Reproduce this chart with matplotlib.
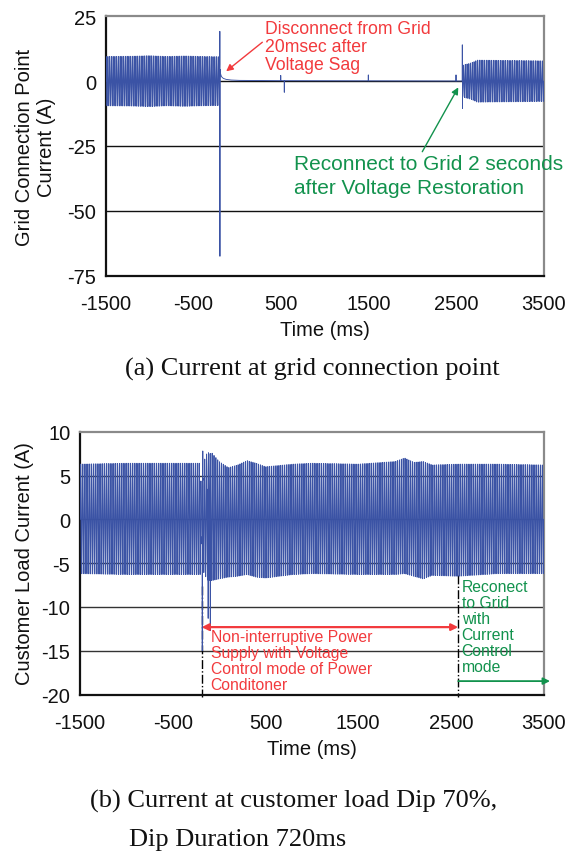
import numpy as np
import matplotlib
matplotlib.use("Agg")
import matplotlib.pyplot as plt

# ---------------- data ----------------
x_ticks = [-1500, -500, 500, 1500, 2500, 3500]
x_ticklabels = ["-1500", "-500", "500", "1500", "2500", "3500"]
top_yticks = [25, 0, -25, -50, -75]
bot_yticks = [10, 5, 0, -5, -10, -15, -20]

line_freq_hz = 50.0

# (a) grid connection point current
grid_pre_env_t = [-1500, -1200, -1000, -800, -600, -400, -197]
grid_pre_env_a = [9.5, 9.6, 9.8, 9.5, 9.7, 9.5, 9.4]
grid_off_t = [-197, -196, -195, -190, -180, -160, -130, -80, 0, 300, 1000, 2000, 2568]
grid_off_v = [19.2, -67.5, 4.5, 3.0, 1.8, 1.1, 0.7, 0.45, 0.3, 0.2, 0.15, 0.1, 0.05]
grid_spike_t = [498, 539, 1498, 2499, 2571, 2573]
grid_spike_v = [2.2, -4.3, 2.4, 2.4, 14.0, -10.5]
grid_post_env_t = [2575, 2600, 2650, 2700, 2740, 3000, 3300, 3500]
grid_post_env_a = [6.0, 6.4, 6.8, 7.4, 8.1, 8.0, 7.9, 7.8]

# (b) customer load current
load_env_t = [-1500, -1000, -500, -200, -192, -182, -168, -130, -80, 0, 100,
              200, 300, 400, 500, 800, 1000, 1500, 1900, 2000, 2100, 2200,
              2300, 2575, 3000, 3500]
load_env_hi = [6.3, 6.4, 6.4, 6.4, 2.8, 2.8, 6.5, 7.6, 7.6, 6.6, 5.9,
               6.2, 6.7, 6.4, 6.0, 6.3, 6.4, 6.3, 6.6, 7.0, 6.5, 6.6,
               6.2, 6.3, 6.3, 6.2]
load_env_lo = [-6.2, -6.3, -6.3, -6.3, -2.8, -2.8, -6.0, -6.9, -7.0, -6.8, -6.6,
               -6.5, -6.3, -6.6, -6.7, -6.3, -6.2, -6.3, -6.3, -6.2, -6.5, -6.8,
               -6.4, -6.5, -6.2, -6.2]
load_spike_t = [-182, -181.5, -176, -118, -95]
load_spike_v = [-15.0, -15.0, 7.8, -11.3, -12.7]

event_off_ms = -188
event_on_ms = 2578

# ---------------- colours ----------------
BLUE = "#3b53a5"
RED = "#f23a3d"
GREEN = "#12924d"

plt.rcParams["font.family"] = ["Liberation Sans", "DejaVu Sans"]

fig = plt.figure(figsize=(5.8, 8.54), dpi=100)
W, H = 580.0, 854.0


def axes_px(l, t, r, b):
    return fig.add_axes([l / W, 1 - b / H, (r - l) / W, (b - t) / H])


ax1 = axes_px(105.7, 17.3, 543.7, 276.7)
ax2 = axes_px(80.0, 432.7, 543.7, 695.6)

step = 0.5
t = np.arange(-1500, 3500 + step, step)
carrier = np.sin(2 * np.pi * line_freq_hz * t / 1000.0)

# ----- (a) signal -----
sig1 = np.zeros_like(t)
m_pre = t < grid_off_t[0]
sig1[m_pre] = carrier[m_pre] * np.interp(t[m_pre], grid_pre_env_t, grid_pre_env_a)
m_off = (t >= grid_off_t[0]) & (t < grid_post_env_t[0])
sig1[m_off] = np.interp(t[m_off], grid_off_t, grid_off_v)
for st, sv in zip(grid_off_t[:3], grid_off_v[:3]):
    sig1[np.argmin(np.abs(t - st))] = sv
m_post = t >= grid_post_env_t[0]
sig1[m_post] = carrier[m_post] * np.interp(t[m_post], grid_post_env_t, grid_post_env_a)
for st, sv in zip(grid_spike_t, grid_spike_v):
    sig1[np.argmin(np.abs(t - st))] = sv

# ----- (b) signal -----
hi = np.interp(t, load_env_t, load_env_hi)
lo = np.interp(t, load_env_t, load_env_lo)
sig2 = np.where(carrier >= 0, carrier * hi, -carrier * lo)
for st, sv in zip(load_spike_t, load_spike_v):
    sig2[np.argmin(np.abs(t - st))] = sv


def style_axes(ax, yticks, ylim, grid_vals, grid_color):
    ax.set_xlim(-1500, 3500)
    ax.set_ylim(*ylim)
    ax.set_xticks(x_ticks)
    ax.set_xticklabels(x_ticklabels)
    ax.set_yticks(yticks)
    ax.set_yticklabels([str(v) for v in yticks])
    ax.tick_params(length=0, labelsize=14.5, colors="#111111")
    ax.tick_params(axis="x", pad=13)
    ax.tick_params(axis="y", pad=7)
    for g in grid_vals:
        ax.axhline(g, color=grid_color, lw=1.0, zorder=1)
    for s in ("left", "bottom"):
        ax.spines[s].set_color("#111111")
        ax.spines[s].set_linewidth(1.6)
    for s in ("top", "right"):
        ax.spines[s].set_color("#8a8a8a")
        ax.spines[s].set_linewidth(1.6)
    ax.set_xlabel("Time (ms)", fontsize=14.5, labelpad=5, color="#111111")


style_axes(ax1, top_yticks, (-75, 25), [0, -25, -50], "#111111")
ax1.plot(t, sig1, color=BLUE, lw=0.65, zorder=3)

style_axes(ax2, bot_yticks, (-20, 10), [5, 0, -5, -10, -15], "#333333")
ax2.plot(t, sig2, color=BLUE, lw=0.65, zorder=3)

# ----- annotations (a) -----
ax1.text(322, 13.4, "Disconnect from Grid\n20msec after\nVoltage Sag",
         color=RED, fontsize=12.7, ha="left", va="center", linespacing=1.1, zorder=5)
ax1.annotate("", xy=(-125, 3.8), xytext=(288, 15),
             arrowprops=dict(arrowstyle="-|>", color=RED, lw=1.0,
                             mutation_scale=10, shrinkA=0, shrinkB=0), zorder=5)
ax1.text(651, -36.4, "Reconnect to Grid 2 seconds\nafter Voltage Restoration",
         color=GREEN, fontsize=15, ha="left", va="center", linespacing=1.3, zorder=5)
ax1.annotate("", xy=(2525, -2.4), xytext=(2114, -27.2),
             arrowprops=dict(arrowstyle="-|>", color=GREEN, lw=1.0,
                             mutation_scale=10, shrinkA=0, shrinkB=0), zorder=5)

# ----- annotations (b) -----
ax2.plot([event_off_ms, event_off_ms], [-7.6, -20.3], color="black", lw=1.0,
         ls="-.", clip_on=False, zorder=2)
ax2.plot([event_on_ms, event_on_ms], [-6.4, -20.3], color="black", lw=1.0,
         ls="-.", clip_on=False, zorder=2)
ax2.annotate("", xy=(event_off_ms, -12.3), xytext=(event_on_ms, -12.3),
             arrowprops=dict(arrowstyle="<|-|>", color=RED, lw=1.6,
                             mutation_scale=10, shrinkA=0, shrinkB=0), zorder=5)
ax2.text(-91, -16.1, "Non-interruptive Power\nSupply with Voltage\nControl mode of Power\nConditoner",
         color=RED, fontsize=11.3, ha="left", va="center", linespacing=1.07, zorder=5)
ax2.text(2616, -12.2, "Reconect\nto Grid\nwith\nCurrent\nControl\nmode",
         color=GREEN, fontsize=11.3, ha="left", va="center", linespacing=1.08, zorder=5)
ax2.annotate("", xy=(3568, -18.46), xytext=(event_on_ms, -18.46),
             arrowprops=dict(arrowstyle="-|>", color=GREEN, lw=1.3,
                             mutation_scale=10, shrinkA=0, shrinkB=0),
             annotation_clip=False, zorder=5)

# ----- axis labels -----
fig.text(35.6 / W, 1 - 147 / H, "Grid Connection Point\nCurrent (A)", rotation=90,
         ha="center", va="center", fontsize=14.5, linespacing=1.15, color="#111111")
fig.text(25 / W, 1 - 564 / H, "Customer Load Current (A)", rotation=90,
         ha="center", va="center", fontsize=14.5, color="#111111")

# ----- captions -----
serif = ["Liberation Serif", "DejaVu Serif"]
fig.text(312.8 / W, 1 - 369 / H, "(a) Current at grid connection point",
         ha="center", va="center", fontsize=19, family=serif, color="#111111")
fig.text(89.9 / W, 1 - 801.7 / H, "(b) Current at customer load Dip 70%,",
         ha="left", va="center", fontsize=19, family=serif, color="#111111")
fig.text(129.3 / W, 1 - 840 / H, "Dip Duration 720ms",
         ha="left", va="center", fontsize=19, family=serif, color="#111111")

fig.savefig("out.png", dpi=100)
